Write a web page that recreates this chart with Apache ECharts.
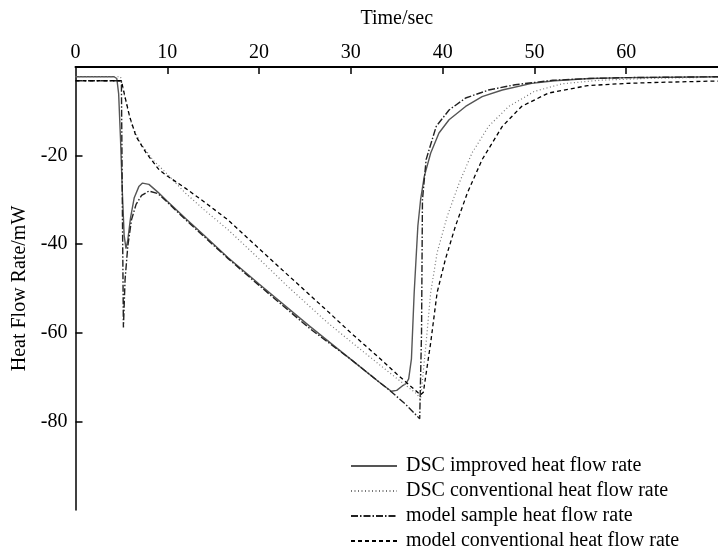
<!DOCTYPE html>
<html>
<head>
<meta charset="utf-8">
<script src="https://cdn.jsdelivr.net/npm/echarts@6/dist/echarts.min.js"></script>
<style>
html,body{margin:0;padding:0;background:#fff;}
#chart{width:718px;height:549px;}
</style>
</head>
<body>
<div id="chart"></div>
<script>
// ---- data ----
var xTickLabels = [0, 10, 20, 30, 40, 50, 60];
var yTickLabels = [-20, -40, -60, -80];
var seriesNames = ['DSC improved heat flow rate', 'DSC conventional heat flow rate', 'model sample heat flow rate', 'model conventional heat flow rate'];

var improvedT = [0, 4.2, 4.5, 4.7, 4.9, 5.1, 5.3, 5.5, 5.7, 6.0, 6.4, 6.9, 7.3, 8.0, 9.0, 10, 12, 14, 16.6, 20, 25.5, 30, 33, 34.4, 35.0, 35.6, 36.0, 36.3, 36.6, 36.9, 37.3, 37.6, 38.0, 38.7, 39.6, 40.7, 42.5, 44.3, 46.5, 49.7, 52.2, 56, 60, 65, 70];
var improvedV = [-2.2, -2.2, -2.6, -6, -16, -28, -38, -41, -39, -34, -29.5, -27, -26.2, -26.5, -28.3, -30.3, -34.2, -38, -43, -49, -58.5, -66, -71, -73.2, -73, -72, -71.5, -70.4, -65.9, -50.9, -35.9, -29.9, -24.7, -19.4, -14.9, -11.9, -8.9, -6.7, -5.2, -3.7, -3.1, -2.6, -2.4, -2.3, -2.2];

var convT = [0, 4.9, 5.1, 5.4, 5.7, 6.2, 7.1, 8.4, 10, 12, 14, 16.6, 20, 23, 27.4, 30, 33, 35, 37.2, 37.6, 38.2, 38.7, 39.4, 40.5, 41.8, 43.2, 45, 47.2, 50, 53, 57, 62, 70];
var convV = [-2.2, -2.2, -4, -7, -9.7, -13.4, -17.2, -20.9, -24.2, -28.5, -32.2, -36.7, -43.3, -49.3, -57.6, -62, -67, -70.3, -73.8, -75, -62.2, -50.9, -41.9, -33.7, -26.2, -19.4, -13.4, -8.9, -5.5, -3.8, -3.0, -2.6, -2.3];

var sampleT = [0, 5.0, 5.1, 5.22, 5.4, 5.7, 6.1, 6.6, 7.2, 8.0, 9.0, 10, 12, 16.6, 20, 25.5, 30, 34.4, 36, 37.5, 37.7, 37.8, 38.2, 39.3, 40.7, 42.5, 45, 47.9, 52, 56, 60, 65, 70];
var sampleV = [-3.1, -3.1, -30, -58.8, -48, -40.4, -34.5, -31, -29, -28, -28.6, -30.5, -34.5, -43.2, -49.3, -59, -66, -73.3, -76.2, -79.4, -60, -30, -20.9, -13.4, -9.7, -7, -5.2, -4.0, -3.0, -2.6, -2.4, -2.3, -2.2];

var modelConvT = [0, 5.0, 5.3, 5.9, 6.6, 7.7, 9.1, 10, 12, 14, 16.6, 20, 23, 27.4, 30, 33, 35, 37.3, 37.6, 37.9, 38.7, 39.4, 40.3, 41.4, 42.7, 44.3, 46.5, 48.6, 51.5, 55.8, 60, 63, 69, 70];
var modelConvV = [-3.1, -3.1, -5.9, -11.2, -15.7, -19.4, -23.2, -24.6, -27.4, -30.4, -34.5, -41, -46.7, -55, -60, -65.5, -69.3, -73.5, -74, -73.4, -62.2, -50.9, -43.4, -35.9, -28.4, -20.9, -13.4, -8.9, -5.9, -4.2, -3.7, -3.5, -3.2, -3.2];

function pairs(t, v) { var out = []; for (var i = 0; i < t.length; i++) out.push([t[i], v[i]]); return out; }

var FONT = "'Liberation Serif', 'Times New Roman', serif";
var chart = echarts.init(document.getElementById('chart'), null, {renderer: 'canvas'});

function mk(name, t, v, color, width, type) {
  return {
    name: name, type: 'line', showSymbol: false, symbol: 'none', smooth: false,
    data: pairs(t, v),
    lineStyle: {color: color, width: width, type: type},
    itemStyle: {color: color},
    animation: false, silent: true
  };
}

chart.setOption({
  animation: false,
  grid: {left: 75.5, top: 67, right: -7, bottom: 39, containLabel: false},
  legend: {
    orient: 'vertical', left: 345, top: 450, height: 100, itemWidth: 46, itemHeight: 14, itemGap: 3,
    itemStyle: {opacity: 0},
    textStyle: {fontFamily: FONT, fontSize: 20, color: '#000', padding: [0, 0, 0, 4], lineHeight: 22},
    data: seriesNames
  },
  xAxis: {
    type: 'value', position: 'top', min: 0, max: 70, interval: 10,
    name: 'Time/sec', nameLocation: 'middle', nameGap: 38,
    nameTextStyle: {fontFamily: FONT, fontSize: 20, color: '#000'},
    axisLine: {show: true, lineStyle: {color: '#000', width: 2}},
    axisTick: {inside: true, length: 7, lineStyle: {color: '#000', width: 1.5}, customValues: xTickLabels.slice(1)},
    axisLabel: {fontFamily: FONT, fontSize: 20, color: '#000', margin: 4, customValues: xTickLabels},
    splitLine: {show: false}
  },
  yAxis: {
    type: 'value', min: -100, max: 0, interval: 20,
    name: 'Heat Flow Rate/mW', nameLocation: 'middle', nameGap: 41, nameRotate: 90,
    nameTextStyle: {fontFamily: FONT, fontSize: 20, color: '#000'},
    axisLine: {show: true, lineStyle: {color: '#000', width: 1.5}},
    axisTick: {inside: true, length: 7, lineStyle: {color: '#000', width: 1.5}, customValues: yTickLabels},
    axisLabel: {fontFamily: FONT, fontSize: 20, color: '#000', margin: 8, customValues: yTickLabels},
    splitLine: {show: false}
  },
  series: [
    mk(seriesNames[0], improvedT, improvedV, '#555555', 1.4, 'solid'),
    mk(seriesNames[1], convT, convV, '#777777', 1.2, [1, 2.5]),
    mk(seriesNames[2], sampleT, sampleV, '#222222', 1.4, [7, 2, 1.5, 2]),
    mk(seriesNames[3], modelConvT, modelConvV, '#000000', 1.3, [4, 3])
  ]
});
</script>
</body>
</html>
